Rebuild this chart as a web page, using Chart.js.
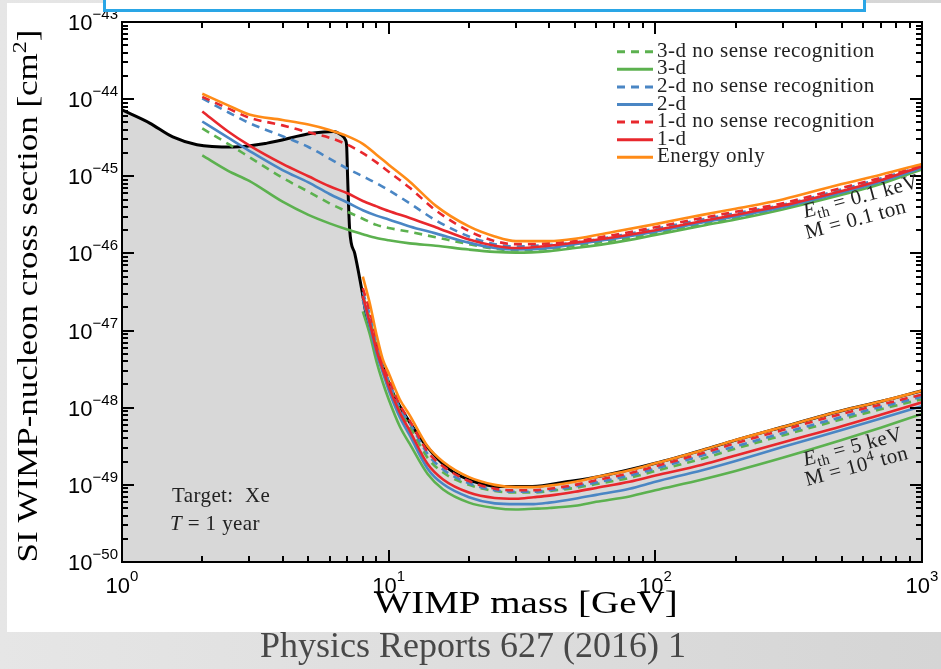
<!DOCTYPE html>
<html>
<head>
<meta charset="utf-8">
<script src="https://cdn.jsdelivr.net/npm/chart.js@4.4.1/dist/chart.umd.min.js"></script>
<style>
  html, body { margin: 0; padding: 0; }
  body { width: 941px; height: 669px; overflow: hidden; position: relative;
         background: linear-gradient(to right, #e6e6e6, #d5d5d5); }
  #panel { position: absolute; left: 7px; top: 3px; width: 934px; height: 629px; background: #fff; }
  #chart { position: absolute; left: 0; top: 0; }
  #box { position: absolute; left: 103px; top: -6px; width: 757px; height: 12px;
         border: 3px solid #2aa6e6; background: #fff; z-index: 2; }
  #source { position: absolute; left: 0; width: 946px; top: 624px; text-align: center;
            font: 36px "Liberation Serif", serif; color: #484848; }
</style>
</head>
<body>
<div id="panel"></div>
<canvas id="chart" width="941" height="669"></canvas>
<div id="box"></div>
<div id="source">Physics Reports 627 (2016) 1</div>
<script>
// WIMP masses [GeV]
const massUpper = [2, 2.5, 3, 4, 5, 6, 7, 8, 9, 10, 12, 15, 20, 25, 30, 40, 50, 70, 100, 150, 200, 300, 500, 700, 1000];
const massLower = [8, 8.5, 9, 9.5, 10, 11, 12, 14, 16, 20, 25, 30, 35, 40, 50, 60, 80, 100, 150, 200, 300, 500, 700, 1000];
const massBlack = [1, 1.27, 1.55, 1.91, 2.61, 3.5, 5.22, 6.21, 6.6, 6.89, 6.96, 7.02, 7.14, 7.46, 7.91, 8.27, 9.02, 10.35, 12.0, 13.9, 16.9, 20.6, 26.0, 34.6, 46.4, 61.7, 100, 150, 200, 300, 500, 700, 1000];

// log10 of cross section [cm^2]
// Eth = 0.1 keV, M = 0.1 ton
const upper3dNoSense = [-44.38, -44.58, -44.75, -45.02, -45.20, -45.35, -45.46, -45.55, -45.63, -45.67, -45.72, -45.79, -45.88, -45.94, -45.96, -45.94, -45.90, -45.83, -45.74, -45.62, -45.54, -45.42, -45.22, -45.08, -44.90];
const upper3d = [-44.73, -44.93, -45.06, -45.33, -45.50, -45.61, -45.69, -45.75, -45.80, -45.83, -45.87, -45.90, -45.95, -45.98, -45.99, -45.97, -45.93, -45.86, -45.76, -45.64, -45.56, -45.43, -45.24, -45.10, -44.91];
const upper2dNoSense = [-43.99, -44.17, -44.31, -44.48, -44.62, -44.77, -44.90, -45.00, -45.09, -45.18, -45.35, -45.57, -45.78, -45.88, -45.91, -45.89, -45.86, -45.78, -45.68, -45.56, -45.48, -45.37, -45.17, -45.03, -44.87];
const upper2d = [-44.29, -44.50, -44.67, -44.92, -45.08, -45.23, -45.34, -45.44, -45.51, -45.56, -45.65, -45.74, -45.86, -45.93, -45.95, -45.93, -45.88, -45.81, -45.72, -45.60, -45.52, -45.40, -45.21, -45.07, -44.89];
const upper1dNoSense = [-43.97, -44.12, -44.24, -44.34, -44.43, -44.50, -44.59, -44.70, -44.82, -44.94, -45.15, -45.44, -45.71, -45.84, -45.88, -45.87, -45.84, -45.76, -45.66, -45.54, -45.46, -45.35, -45.15, -45.02, -44.86];
const upper1d = [-44.16, -44.42, -44.60, -44.84, -45.00, -45.13, -45.22, -45.32, -45.39, -45.45, -45.54, -45.66, -45.82, -45.90, -45.93, -45.90, -45.86, -45.79, -45.70, -45.58, -45.50, -45.38, -45.19, -45.05, -44.87];
const upperEnergy = [-43.93, -44.08, -44.20, -44.27, -44.33, -44.40, -44.48, -44.58, -44.72, -44.85, -45.07, -45.38, -45.65, -45.78, -45.84, -45.84, -45.81, -45.72, -45.62, -45.50, -45.42, -45.30, -45.10, -44.98, -44.84];
// Eth = 5 keV, M = 10^4 ton
const lower3dNoSense = [-46.55, -46.85, -47.20, -47.50, -47.68, -48.03, -48.24, -48.65, -48.84, -49.00, -49.08, -49.10, -49.10, -49.08, -49.04, -48.99, -48.91, -48.82, -48.66, -48.53, -48.36, -48.15, -48.02, -47.89];
const lower3d = [-46.75, -47.05, -47.40, -47.67, -47.89, -48.24, -48.47, -48.86, -49.06, -49.23, -49.30, -49.32, -49.31, -49.30, -49.27, -49.22, -49.15, -49.07, -48.93, -48.82, -48.65, -48.42, -48.26, -48.08];
const lower2dNoSense = [-46.50, -46.80, -47.16, -47.47, -47.65, -48.00, -48.20, -48.60, -48.80, -48.98, -49.07, -49.09, -49.09, -49.07, -49.02, -48.97, -48.88, -48.79, -48.62, -48.50, -48.33, -48.12, -47.99, -47.86];
const lower2d = [-46.60, -46.95, -47.30, -47.54, -47.77, -48.12, -48.36, -48.79, -48.99, -49.16, -49.24, -49.25, -49.25, -49.23, -49.18, -49.13, -49.05, -48.96, -48.81, -48.69, -48.51, -48.29, -48.14, -47.98];
const lower1dNoSense = [-46.45, -46.75, -47.12, -47.44, -47.62, -47.96, -48.17, -48.57, -48.76, -48.95, -49.05, -49.07, -49.07, -49.05, -49.00, -48.94, -48.85, -48.76, -48.59, -48.46, -48.29, -48.08, -47.96, -47.83];
const lower1d = [-46.55, -46.90, -47.25, -47.50, -47.72, -48.06, -48.30, -48.73, -48.93, -49.10, -49.17, -49.18, -49.16, -49.14, -49.09, -49.04, -48.96, -48.88, -48.74, -48.62, -48.45, -48.24, -48.09, -47.93];
const lowerEnergy = [-46.30, -46.65, -47.05, -47.37, -47.55, -47.89, -48.10, -48.50, -48.70, -48.90, -49.00, -49.03, -49.03, -49.01, -48.96, -48.90, -48.81, -48.72, -48.55, -48.42, -48.25, -48.04, -47.92, -47.78];
// black boundary curve (grey region below it)
const blackCurve = [-44.14, -44.31, -44.49, -44.59, -44.62, -44.57, -44.44, -44.42, -44.46, -44.53, -44.62, -45.04, -45.69, -46.00, -46.45, -46.82, -47.24, -47.80, -48.19, -48.50, -48.80, -48.95, -49.02, -49.02, -48.96, -48.89, -48.72, -48.55, -48.42, -48.25, -48.04, -47.92, -47.78];

const seriesLabels = ['3-d no sense recognition', '3-d', '2-d no sense recognition', '2-d', '1-d no sense recognition', '1-d', 'Energy only'];
const upperSeries = [upper3dNoSense, upper3d, upper2dNoSense, upper2d, upper1dNoSense, upper1d, upperEnergy];
const lowerSeries = [lower3dNoSense, lower3d, lower2dNoSense, lower2d, lower1dNoSense, lower1d, lowerEnergy];

// axis ticks
const xDecades = [0, 1, 2, 3];
const yDecades = [-50, -49, -48, -47, -46, -45, -44, -43];
const minorSteps = [2, 3, 4, 5, 6, 7, 8, 9];

// styles
const GREEN = '#5cb14f', BLUE = '#4a86c4', RED = '#e8282d', ORANGE = '#ff8b17';
const styles = [
  {color: GREEN, dash: [8, 6]}, {color: GREEN, dash: []},
  {color: BLUE, dash: [8, 6]}, {color: BLUE, dash: []},
  {color: RED, dash: [8, 6]}, {color: RED, dash: []},
  {color: ORANGE, dash: []}
];
const SERIF = '"Liberation Serif", "Times New Roman", serif';
const SANS = '"Liberation Sans", Arial, sans-serif';

const toPoints = (mass, exps) => mass.map((m, i) => ({x: m, y: Math.pow(10, exps[i])}));

const datasets = [{
  label: 'limit',
  data: toPoints(massBlack, blackCurve),
  borderColor: '#000',
  borderWidth: 3,
  backgroundColor: '#d8d8d8',
  fill: 'start',
  order: 100
}];
seriesLabels.forEach((label, i) => {
  [upperSeries[i], lowerSeries[i]].forEach((vals, k) => {
    datasets.push({
      label: label,
      data: toPoints(k === 0 ? massUpper : massLower, vals),
      borderColor: styles[i].color,
      borderDash: styles[i].dash,
      borderWidth: 2.6,
      fill: false,
      order: 10 - i
    });
  });
});

function drawRuns(ctx, runs, x, y) {
  let cx = x;
  runs.forEach(r => {
    ctx.font = r.font;
    ctx.fillText(r.text, cx, y + (r.dy || 0));
    cx += ctx.measureText(r.text).width;
  });
  return cx - x;
}
function runsWidth(ctx, runs) {
  let w = 0;
  runs.forEach(r => { ctx.font = r.font; w += ctx.measureText(r.text).width; });
  return w;
}
const expText = e => (e < 0 ? '\u2212' + Math.abs(e) : String(e));

// inward tick marks (major at decades, minor at 2..9) on all four sides
function drawTicks(chart) {
  const ctx = chart.ctx, a = chart.chartArea;
  const xs = chart.scales.x, ys = chart.scales.y;
  ctx.save();
  ctx.fillStyle = '#000';
  const tw = 2, big = 12, small = 6;
  xDecades.forEach((e, i) => {
    const p = Math.round(xs.getPixelForValue(Math.pow(10, e)));
    ctx.fillRect(p - 1, a.bottom - big, tw, big);
    ctx.fillRect(p - 1, a.top, tw, big);
    if (i < xDecades.length - 1) {
      minorSteps.forEach(s => {
        const q = Math.round(xs.getPixelForValue(s * Math.pow(10, e)));
        ctx.fillRect(q - 1, a.bottom - small, tw, small);
        ctx.fillRect(q - 1, a.top, tw, small);
      });
    }
  });
  yDecades.forEach((e, i) => {
    const p = Math.round(ys.getPixelForValue(Math.pow(10, e)));
    ctx.fillRect(a.left, p - 1, big, tw);
    ctx.fillRect(a.right - big, p - 1, big, tw);
    if (i < yDecades.length - 1) {
      minorSteps.forEach(s => {
        const q = Math.round(ys.getPixelForValue(s * Math.pow(10, e)));
        ctx.fillRect(a.left, q - 1, small, tw);
        ctx.fillRect(a.right - small, q - 1, small, tw);
      });
    }
  });
  ctx.restore();
}

const decor = {
  id: 'decor',
  afterDraw(chart) {
    const {ctx, chartArea: a} = chart;
    const xs = chart.scales.x, ys = chart.scales.y;
    ctx.save();
    ctx.setLineDash([]);
    ctx.fillStyle = '#000';
    ctx.strokeStyle = '#000';
    ctx.lineWidth = 2;
    ctx.strokeRect(a.left, a.top, a.right - a.left, a.bottom - a.top);
    drawTicks(chart);

    // tick labels
    ctx.textAlign = 'left';
    ctx.textBaseline = 'alphabetic';
    const bigF = '22px ' + SANS, supF = '15px ' + SANS;
    yDecades.forEach(e => {
      const p = ys.getPixelForValue(Math.pow(10, e));
      const runs = [{text: '10', font: bigF, dy: 8}, {text: expText(e), font: supF, dy: -3}];
      const w = runsWidth(ctx, runs);
      drawRuns(ctx, runs, a.left - 4 - w, p);
    });
    xDecades.forEach(e => {
      const p = xs.getPixelForValue(Math.pow(10, e));
      const runs = [{text: '10', font: bigF, dy: 0}, {text: expText(e), font: supF, dy: -12}];
      const w = runsWidth(ctx, runs);
      drawRuns(ctx, runs, p - w / 2, a.bottom + 31);
    });

    // axis titles
    ctx.save();
    ctx.translate((a.left + a.right) / 2 + 4, a.bottom + 51);
    ctx.scale(1, 0.82);
    ctx.font = '39px ' + SERIF;
    ctx.textAlign = 'center';
    ctx.fillText('WIMP mass [GeV]', 0, 0);
    ctx.restore();

    ctx.save();
    ctx.translate(37, (a.top + a.bottom) / 2 + 4);
    ctx.rotate(-Math.PI / 2);
    ctx.scale(1, 0.82);
    const yRuns = [
      {text: 'SI WIMP-nucleon cross section [cm', font: '35px ' + SERIF},
      {text: '2', font: '24px ' + SERIF, dy: -14},
      {text: ']', font: '35px ' + SERIF}
    ];
    drawRuns(ctx, yRuns, -runsWidth(ctx, yRuns) / 2, 0);
    ctx.restore();

    // legend
    const lx = a.right - 305, ly = a.top + 29.7, step = 17.6;
    ctx.letterSpacing = '0.5px';
    seriesLabels.forEach((label, i) => {
      const yy = ly + i * step;
      ctx.strokeStyle = styles[i].color;
      ctx.lineWidth = 3;
      ctx.setLineDash(styles[i].dash);
      ctx.beginPath(); ctx.moveTo(lx, yy); ctx.lineTo(lx + 36, yy); ctx.stroke();
      ctx.setLineDash([]);
      ctx.font = '21px ' + SERIF;
      ctx.fillStyle = '#222';
      ctx.fillText(label, lx + 40, yy + 5);
    });

    // annotations
    ctx.fillStyle = '#222';
    ctx.letterSpacing = '0.4px';
    const it = 'italic 21px ' + SERIF, rm = '21px ' + SERIF, sm = '15px ' + SERIF;
    const rot = (px, py, runs) => {
      ctx.save(); ctx.translate(px, py); ctx.rotate(-15 * Math.PI / 180);
      drawRuns(ctx, runs, 0, 0); ctx.restore();
    };
    rot(805, 218, [{text: 'E', font: it}, {text: 'th', font: sm, dy: 4}, {text: ' = 0.1 keV', font: rm}]);
    rot(807, 239, [{text: 'M = 0.1 ton', font: rm}]);
    rot(805, 466, [{text: 'E', font: it}, {text: 'th', font: sm, dy: 4}, {text: ' = 5 keV', font: rm}]);
    rot(807, 486, [{text: 'M = 10', font: rm}, {text: '4', font: sm, dy: -8}, {text: ' ton', font: rm}]);

    drawRuns(ctx, [{text: 'Target:  Xe', font: rm}], 172, 502);
    drawRuns(ctx, [{text: 'T', font: it}, {text: ' = 1 year', font: rm}], 170, 530);
    ctx.letterSpacing = '0px';

    ctx.restore();
  }
};

new Chart(document.getElementById('chart'), {
  type: 'line',
  data: {datasets: datasets},
  options: {
    responsive: false,
    animation: false,
    devicePixelRatio: 1,
    layout: {padding: {left: 122, right: 19, top: 22, bottom: 107}},
    elements: {
      point: {radius: 0},
      line: {cubicInterpolationMode: 'monotone', borderCapStyle: 'butt'}
    },
    scales: {
      x: {type: 'logarithmic', display: false, min: 1, max: 1000},
      y: {type: 'logarithmic', display: false, min: 1e-50, max: 1e-43}
    },
    plugins: {legend: {display: false}, tooltip: {enabled: false}}
  },
  plugins: [decor]
});
</script>
</body>
</html>
